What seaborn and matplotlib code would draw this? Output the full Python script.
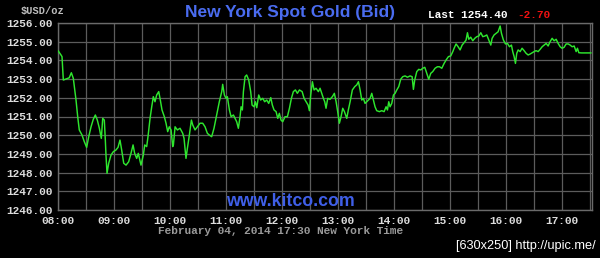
import matplotlib
matplotlib.use("Agg")
import matplotlib.pyplot as plt
import seaborn as sns
import pandas as pd

# minutes after 08:00 New York time
minutes = [0, 3.2, 4.3, 5.7, 10.4, 12, 14.3, 16.4, 19.3, 21.1, 22.8, 25.7, 28.2, 30.7, 32.9, 35.4, 37.8, 40, 42.1, 44.3,
           46.4, 47.9, 49.6, 50.7, 51.4, 52.5, 54.3, 56.8, 59.3, 62.1, 64.3, 66.4, 68.2, 70.4, 72.9, 75.7, 78.2, 80.4,
           82.1, 84.3, 86, 88.9, 91.4, 92.9, 95, 96.4, 98.6, 100.4, 102.1, 103.9, 105.7, 107.9, 109.6, 111.4, 113.9,
           115.7, 117.5, 119.2, 121.1, 122.9, 123.6, 125.4, 127.9, 130.7, 133.6, 135, 137.1, 138.6, 140.7, 142.9, 144.3,
           146.8, 149.3, 152.1, 155, 157.5, 160, 162.1, 164.6, 167.1, 170, 172.8, 175.4, 176.4, 178.2, 180, 181.4,
           183.6, 185.4, 187.9, 189.6, 191.4, 193.2, 195, 196.1, 197.5, 198.6, 200.4, 202.1, 204.3, 206.4, 207.9, 210,
           211.4, 212.9, 215, 217.1, 219.3, 221.4, 223.6, 225.7, 227.9, 229.6, 231.4, 233.6, 235.4, 237.1, 238.9,
           240.7, 243.2, 245.7, 247.9, 250, 252.1, 254.3, 256.4, 258.6, 261.5, 263.6, 265.7, 267.9, 269.3, 270.7,
           272.5, 274.3, 276.4, 278.9, 280.7, 282.5, 284.3, 285.7, 287.1, 288.9, 291.4, 293.9, 296, 297.9, 299.6,
           301.4, 303.2, 305, 306.8, 309.3, 311, 312.9, 315.3, 317.9, 320, 321.8, 323.6, 325.4, 327.1, 328.9, 330.7,
           332.5, 334.3, 336.1, 337.8, 339.6, 341.4, 344.3, 346.8, 349.3, 351.4, 352.9, 354.3, 355.7, 357.5, 359.3,
           361.1, 362.9, 365, 367.1, 369.3, 371.8, 374.3, 377.1, 379.3, 380.7, 382.1, 384.3, 386.4, 388.6, 390.7,
           392.9, 395, 397.1, 399.3, 401.4, 403.9, 406.4, 408.6, 411.1, 413.6, 415.7, 418.2, 420.7, 422.9, 424.3,
           426.4, 428.6, 430.7, 432.9, 435, 437.1, 438.6, 440, 442.1, 444.3, 446.4, 448.6, 450.7, 452.9, 455, 457.1,
           459.3, 461.4, 463.6, 465, 467.1, 469.3, 471.4, 473.6, 475, 477.1, 479.3, 481.4, 483.6, 485.7, 487.1,
           488.6, 490, 491.4, 492.9, 495, 497.1, 499.3, 501.4, 503.6, 505.7, 507.9, 510, 512.1, 514.3, 516.4, 518.6,
           520.7, 522.9, 525, 527.1, 529.3, 531.4, 533.6, 535.7, 537.9, 540, 542.1, 544.3, 546.4, 548.6, 550.7,
           552.9, 555, 556.4, 557.9, 561, 571]
prices = [1254.52, 1254.29, 1254.2, 1252.95, 1253.04, 1253.07, 1253.34, 1253.04, 1251.88, 1250.99, 1250.28, 1250.01,
          1249.65, 1249.35, 1249.92, 1250.45, 1250.85, 1251.08, 1250.81, 1250.37, 1249.83, 1250.9, 1250.81, 1249.74,
          1248.94, 1247.96, 1248.5, 1248.94, 1249.12, 1249.21, 1249.35, 1249.74, 1249.21, 1248.5, 1248.4, 1248.58,
          1249.03, 1249.48, 1249.03, 1248.76, 1249.03, 1248.4, 1248.94, 1249.48, 1249.39, 1249.92, 1250.9, 1251.52,
          1252.06, 1251.79, 1252.15, 1252.33, 1251.88, 1251.35, 1250.99, 1250.64, 1250.19, 1250.45, 1250.28, 1249.39,
          1249.48, 1250.45, 1250.28, 1250.37, 1250.1, 1249.83, 1248.76, 1249.3, 1250.01, 1250.81, 1250.55, 1250.28,
          1250.45, 1250.64, 1250.64, 1250.45, 1250.1, 1250.01, 1249.92, 1250.37, 1251.08, 1251.79, 1252.33, 1252.72,
          1252.15, 1251.97, 1252.06, 1251.35, 1250.99, 1251.08, 1250.9, 1250.72, 1250.37, 1250.99, 1251.52, 1251.35,
          1252.33, 1253.13, 1253.22, 1252.95, 1252.33, 1251.61, 1251.52, 1251.79, 1251.47, 1252.15, 1251.88, 1251.97,
          1251.79, 1251.88, 1251.7, 1252.01, 1251.61, 1251.35, 1251.26, 1250.9, 1251.17, 1250.81, 1250.72, 1250.99,
          1250.99, 1251.44, 1251.97, 1252.33, 1252.42, 1252.24, 1252.42, 1252.33, 1251.97, 1251.79, 1251.61, 1251.31,
          1252.15, 1252.86, 1252.42, 1252.51, 1252.33, 1252.51, 1252.24, 1251.97, 1251.79, 1251.44, 1251.97, 1251.92,
          1252.06, 1252.24, 1251.79, 1251.26, 1250.64, 1250.99, 1251.44, 1251.26, 1250.9, 1251.35, 1251.79, 1252.42,
          1252.6, 1252.69, 1252.86, 1252.42, 1251.88, 1251.97, 1251.7, 1251.79, 1251.88, 1251.97, 1252.24, 1251.88,
          1251.52, 1251.31, 1251.26, 1251.31, 1251.26, 1251.52, 1251.35, 1251.79, 1251.52, 1251.7, 1252.15, 1252.24,
          1252.42, 1252.6, 1252.99, 1253.13, 1253.17, 1253.1, 1253.17, 1253.13, 1252.45, 1252.95, 1253.4, 1253.52,
          1253.49, 1253.58, 1253.63, 1253.31, 1252.99, 1253.31, 1253.4, 1253.58, 1253.66, 1253.66, 1253.58, 1253.84,
          1254.02, 1254.2, 1254.24, 1254.47, 1254.65, 1254.88, 1254.73, 1254.56, 1254.82, 1254.95, 1255.09, 1255.48,
          1255.13, 1255.24, 1255.05, 1255.18, 1255.27, 1255.3, 1255.48, 1255.27, 1255.3, 1255.36, 1255.09, 1254.82,
          1255.18, 1255.36, 1255.45, 1255.53, 1255.84, 1255.45, 1255.09, 1254.88, 1254.91, 1254.73, 1254.82, 1254.47,
          1254.2, 1253.84, 1254.38, 1254.56, 1254.47, 1254.65, 1254.52, 1254.38, 1254.29, 1254.34, 1254.41, 1254.47,
          1254.52, 1254.47, 1254.59, 1254.73, 1254.82, 1254.91, 1254.77, 1255.0, 1255.18, 1255.05, 1255.13, 1254.91,
          1254.73, 1254.65, 1254.7, 1254.88, 1254.88, 1254.82, 1254.73, 1254.77, 1254.47, 1254.65, 1254.41, 1254.4,
          1254.4]

x_tick_labels = ["08:00", "09:00", "10:00", "11:00", "12:00", "13:00", "14:00", "15:00", "16:00", "17:00"]
y_tick_values = [1246, 1247, 1248, 1249, 1250, 1251, 1252, 1253, 1254, 1255, 1256]

title = "New York Spot Gold (Bid)"
last_text = "Last 1254.40"
change_text = "-2.70"
unit_text = "$USD/oz"
date_text = "February 04, 2014 17:30 New York Time"
site_text = "www.kitco.com"
credit_text = "[630x250] http://upic.me/"

df = pd.DataFrame({"minutes": minutes, "price": prices})

sns.set_theme(style="dark")
mono = ["Liberation Mono", "DejaVu Sans Mono"]
sans = ["Liberation Sans", "DejaVu Sans"]

fig = plt.figure(figsize=(6.0, 2.58), dpi=100, facecolor="black")
ax = fig.add_axes([58 / 600, 1 - 210 / 258, (592 - 58) / 600, (210 - 23) / 258])
ax.set_facecolor("black")

sns.lineplot(data=df, x="minutes", y="price", ax=ax, color="#2ee62e", linewidth=1.05,
             estimator=None, sort=False, zorder=3)

ax.set_xlim(0, 572)
ax.set_ylim(1246, 1256)
major_x = list(range(0, 541, 60))
ax.set_xticks(major_x)
ax.set_xticklabels(x_tick_labels)
ax.set_xticks([m + 30 for m in major_x], minor=True)
ax.set_yticks(y_tick_values)
ax.set_yticklabels([f"{v:.2f}" for v in y_tick_values])

ax.grid(True, which="both", color="#5c5c5c", linewidth=0.9)
ax.tick_params(which="both", length=0, colors="#dcdcdc", labelsize=8, pad=4)
for lab in ax.get_xticklabels() + ax.get_yticklabels():
    lab.set_family(mono)
    lab.set_fontweight("bold")
ax.set_xlabel("")
ax.set_ylabel("")
for s in ax.spines.values():
    s.set_color("#6a6a6a")
    s.set_linewidth(1.0)

fig.text(42 / 600, 1 - 11 / 258, unit_text, family=mono, fontsize=7.5, color="#bdbdbd",
         ha="center", va="center", fontweight="bold")
fig.text(290 / 600, 1 - 12 / 258, title, family=sans, fontsize=12.5, color="#4a6cf0",
         ha="center", va="center", fontweight="bold")
fig.text(428 / 600, 1 - 15 / 258, last_text, family=mono, fontsize=8, color="white",
         ha="left", va="center", fontweight="bold")
fig.text(517 / 600, 1 - 15 / 258, change_text, family=mono, fontsize=8, color="#ee1111",
         ha="left", va="center", fontweight="bold")
fig.text(281 / 600, 1 - 231 / 258, date_text, family=mono, fontsize=8, color="#9a9a9a",
         ha="center", va="center", fontweight="bold")
fig.text(290 / 600, 1 - 202 / 258, site_text, family=sans, fontsize=12.8, color="#3f5fe8",
         ha="center", va="center", fontweight="bold")
fig.text(596 / 600, 1 - 246 / 258, credit_text, family=sans, fontsize=9.2, color="white",
         ha="right", va="center")

fig.savefig("out.png", dpi=100, facecolor="black")
